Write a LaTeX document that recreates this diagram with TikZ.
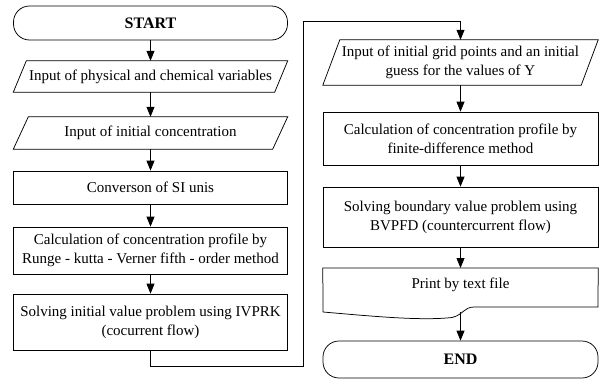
\documentclass[tikz,border=0pt]{standalone}
\usepackage{fontspec}
\setmainfont{Liberation Serif}
\usetikzlibrary{arrows.meta,shapes.geometric,calc}
\newcommand{\drawpara}[2]{\draw[lw] (#1.south west) -- ($(#1.north west)+(#2,0)$) -- (#1.north east) -- ($(#1.south east)+(-#2,0)$) -- cycle;}
\begin{document}
\begin{tikzpicture}[x=1pt,y=-1pt,
  lw/.style={line width=0.75pt},
  txt/.style={font=\fontsize{15}{19}\selectfont, align=center, inner sep=1pt},
  box/.style={txt, lw, draw, rectangle, minimum width=274pt},
  io/.style={txt, rectangle, minimum width=274pt},
  term/.style={lw, draw, rectangle, rounded corners=16pt, minimum width=274pt,
    font=\bfseries\fontsize{16}{19}\selectfont},
  arr/.style={lw, -{Triangle[length=10pt,width=8pt]}}]
\useasboundingbox (0,0) rectangle (601,383);
% left column
\node[term, minimum height=34pt] (start) at (150.5,23) {START};
\node[io, minimum height=31pt] (p1) at (150.5,76.5) {Input of physical and chemical variables};
\drawpara{p1}{13}
\node[io, minimum height=32pt] (p2) at (150.5,133) {Input of initial concentration};
\drawpara{p2}{15}
\node[box, minimum height=33pt] (conv) at (150.5,187.5) {Converson of SI unis};
\node[box, minimum height=47pt] (calcL) at (150.5,250.5) {Calculation of concentration profile by\\Runge - kutta - Verner fifth - order method};
\node[box, minimum height=56pt] (solvL) at (150.5,322) {Solving initial value problem using IVPRK\\(cocurrent flow)};
% right column
\node[io, minimum width=275pt, minimum height=45pt] (p3) at (460.5,62.5) {Input of initial grid points and an initial\\guess for the values of Y};
\drawpara{p3}{17}
\node[box, minimum width=275pt, minimum height=53pt] (calcR) at (460.5,138.5) {Calculation of concentration profile by\\finite-difference method};
\node[box, minimum width=275pt, minimum height=60pt] (solvR) at (460.5,217) {Solving boundary value problem using\\BVPFD (countercurrent flow)};
\node[txt, minimum width=275pt, minimum height=44pt, anchor=north] (pd) at (460.5,268) {\raisebox{14pt}{Print by text file}};
\draw[lw] (323,312) -- (pd.north west) -- (pd.north east) -- (598,307)
  -- (474,307) .. controls (464,307) and (463,315) .. (452,317.5)
  .. controls (420,321) and (370,316) .. (323,312);
\coordinate (pdb) at (460.5,312);
\node[term, minimum width=275pt, minimum height=37pt] (end) at (460.5,359.5) {END};
% connectors
\coordinate (cb) at (303,366);
\coordinate (ct) at (303,21);
\draw[arr] (start) -- (p1);
\draw[arr] (p1) -- (p2);
\draw[arr] (p2) -- (conv);
\draw[arr] (conv) -- (calcL);
\draw[arr] (calcL) -- (solvL);
\draw[arr] (solvL.south) |- (cb) -- (ct) -| (p3.north);
\draw[arr] (p3) -- (calcR);
\draw[arr] (calcR) -- (solvR);
\draw[arr] (solvR) -- (pd.north);
\draw[arr] (pdb) -- (end);
\end{tikzpicture}
\end{document}
